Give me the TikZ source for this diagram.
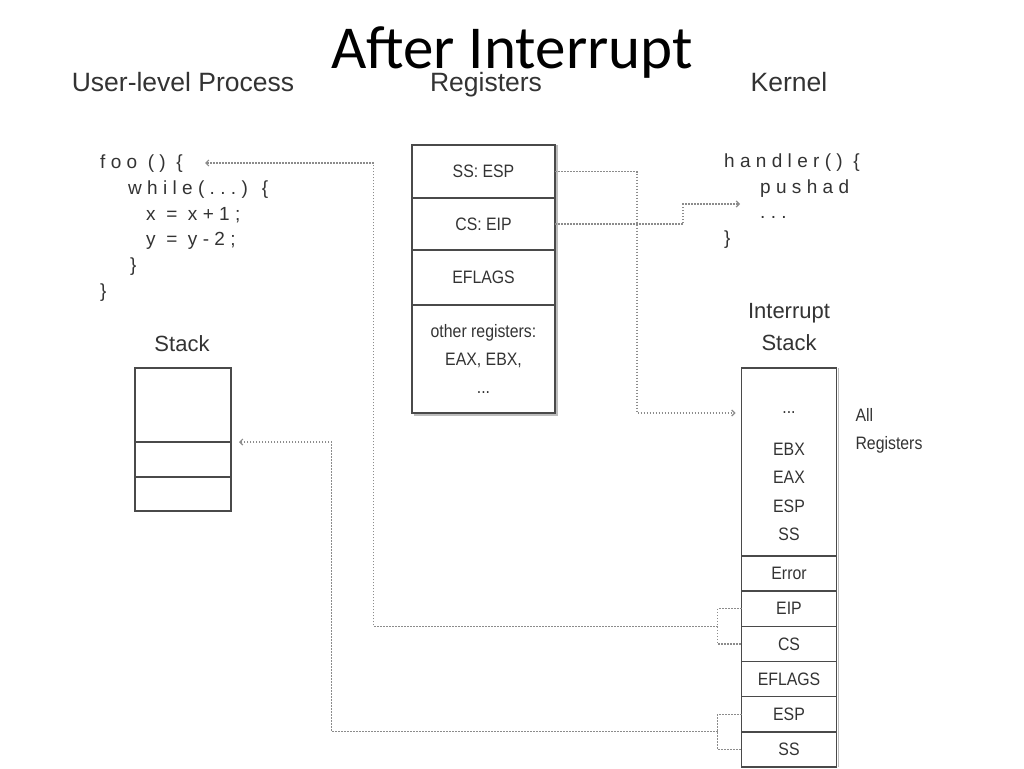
\documentclass[tikz,border=0pt]{standalone}
\usepackage{fontspec}
\setmainfont{Liberation Sans}
\newfontfamily\titlefont{Carlito}
\newfontfamily\boxfont[FakeStretch=0.88]{Liberation Sans}
\newfontfamily\codefont[LetterSpace=28]{Liberation Sans}
\usetikzlibrary{positioning}
\usetikzlibrary{arrows.meta}

\definecolor{ink}{HTML}{333333}
\definecolor{rule}{HTML}{4A4A4A}
\definecolor{dots}{HTML}{8C8C8C}
\definecolor{shade}{HTML}{BDBDBD}

\tikzset{
  heading/.style={text=ink, anchor=base, font=\fontsize{26.5}{30}\selectfont},
  label/.style={text=ink, anchor=base, align=center, font=\fontsize{22}{32}\selectfont},
  cell/.style={draw=rule, line width=1.6pt, outer sep=0pt, inner sep=0pt,
    text=ink, align=center, font=\boxfont\fontsize{18}{28}\selectfont},
  reg/.style={cell, minimum width=143pt},
  stk/.style={cell, minimum width=95pt, minimum height=35.17pt},
  entry/.style={text=ink, font=\boxfont\fontsize{18}{24}\selectfont},
  code/.style={text=ink, align=left, anchor=west, inner sep=0pt,
    font=\codefont\fontsize{19}{25.8}\selectfont},
  link/.style={draw=dots, line width=1.2pt, dash pattern=on 1.5pt off 1.5pt},
  shadow/.style={draw=shade, line width=1.6pt},
  >={Straight Barb[length=3pt,width=6pt]}
}

\begin{document}
\begin{tikzpicture}[x=1pt, y=-1pt]
    \useasboundingbox (0,0) rectangle (1024,768);

    \node (title) [anchor=base, font=\titlefont\fontsize{61}{70}\selectfont] at (512,68) {After Interrupt};
    \node (hproc) [heading] at (183,91) {User-level Process};
    \node (hregs) [heading] at (486,91) {Registers};
    \node (hkern) [heading] at (789,91) {Kernel};

    % user code and its stack
    \node (ucode) [code] at (100,228) {foo () \{\\
      \hspace*{28pt}while(...) \{\\
      \hspace*{46pt}x = x+1;\\
      \hspace*{46pt}y = y-2;\\
      \hspace*{30pt}\}\\
      \}};
    \node (lstack) [label] at (182,351) {Stack};
    \node (stka) [cell, minimum width=96pt, minimum height=74pt] at (183,405) {};
    \node (stkb) [cell, minimum width=96pt, minimum height=35pt, below=0pt of stka] {};
    \node (stkc) [cell, minimum width=96pt, minimum height=34pt, below=0pt of stkb] {};

    % registers
    \node (ssesp) [reg, minimum height=53pt] at (483.5,171.5) {SS: ESP};
    \node (cseip) [reg, minimum height=52pt, below=0pt of ssesp] {CS: EIP};
    \node (eflags) [reg, minimum height=55pt, below=0pt of cseip] {EFLAGS};
    \node (others) [reg, minimum height=108pt, below=0pt of eflags] {other registers:\\EAX, EBX,\\...};
    \draw[shadow] ([xshift=2pt]ssesp.north east) -- ([xshift=2pt, yshift=-2pt]others.south east)
      -- ([xshift=2pt, yshift=-2pt]others.south west);

    % kernel code
    \node (kcode) [code] at (724,201) {handler() \{\\
      \hspace*{36pt}pushad\\
      \hspace*{36pt}...\\
      \}};
    \coordinate (hentry) at (740,204);

    % interrupt stack
    \node (listack) [label] at (789,350) {Interrupt\\Stack};
    \node (istop) [stk, minimum height=188pt] at (789,462) {};
    \node (idots) [entry] at (789,413) {...};
    \node (iebx) [entry] at (789,449) {EBX};
    \node (ieax) [entry] at (789,477) {EAX};
    \node (iespr) [entry] at (789,506) {ESP};
    \node (issr) [entry] at (789,534) {SS};
    \node (lall) [entry, anchor=base west, align=left, font=\boxfont\fontsize{18}{28}\selectfont] at (852,449) {All\\Registers};
    \node (ierr) [stk, below=0pt of istop] {Error};
    \node (ieip) [stk, below=0pt of ierr] {EIP};
    \node (ics) [stk, below=0pt of ieip] {CS};
    \node (iflags) [stk, below=0pt of ics] {EFLAGS};
    \node (iesp) [stk, below=0pt of iflags] {ESP};
    \node (iss) [stk, below=0pt of iesp] {SS};
    \draw[shadow] ([xshift=2pt]istop.north east) -- ([xshift=2pt]iss.south east);

    \coordinate (fooret) at (205,163);

    % dotted connectors
    \draw[link, ->, shorten >=6pt] (ssesp.east) -- ++(82,0) |- (istop.west |- idots);
    \draw[link, ->] (cseip.east) -- ++(128,0) |- (hentry);
    \draw[link] (ieip.west) -- ++(-24,0) |- (ics.west);
    \draw[link, ->] ([xshift=-24pt]ieip.south west) -- ++(-344,0) |- (fooret);
    \draw[link] (iesp.west) -- ++(-24,0) |- (iss.west);
    \draw[link, ->, shorten >=8pt] ([xshift=-24pt]iesp.south west) -- ++(-386,0) |- (stkb.north east);

  \end{tikzpicture}
\end{document}
